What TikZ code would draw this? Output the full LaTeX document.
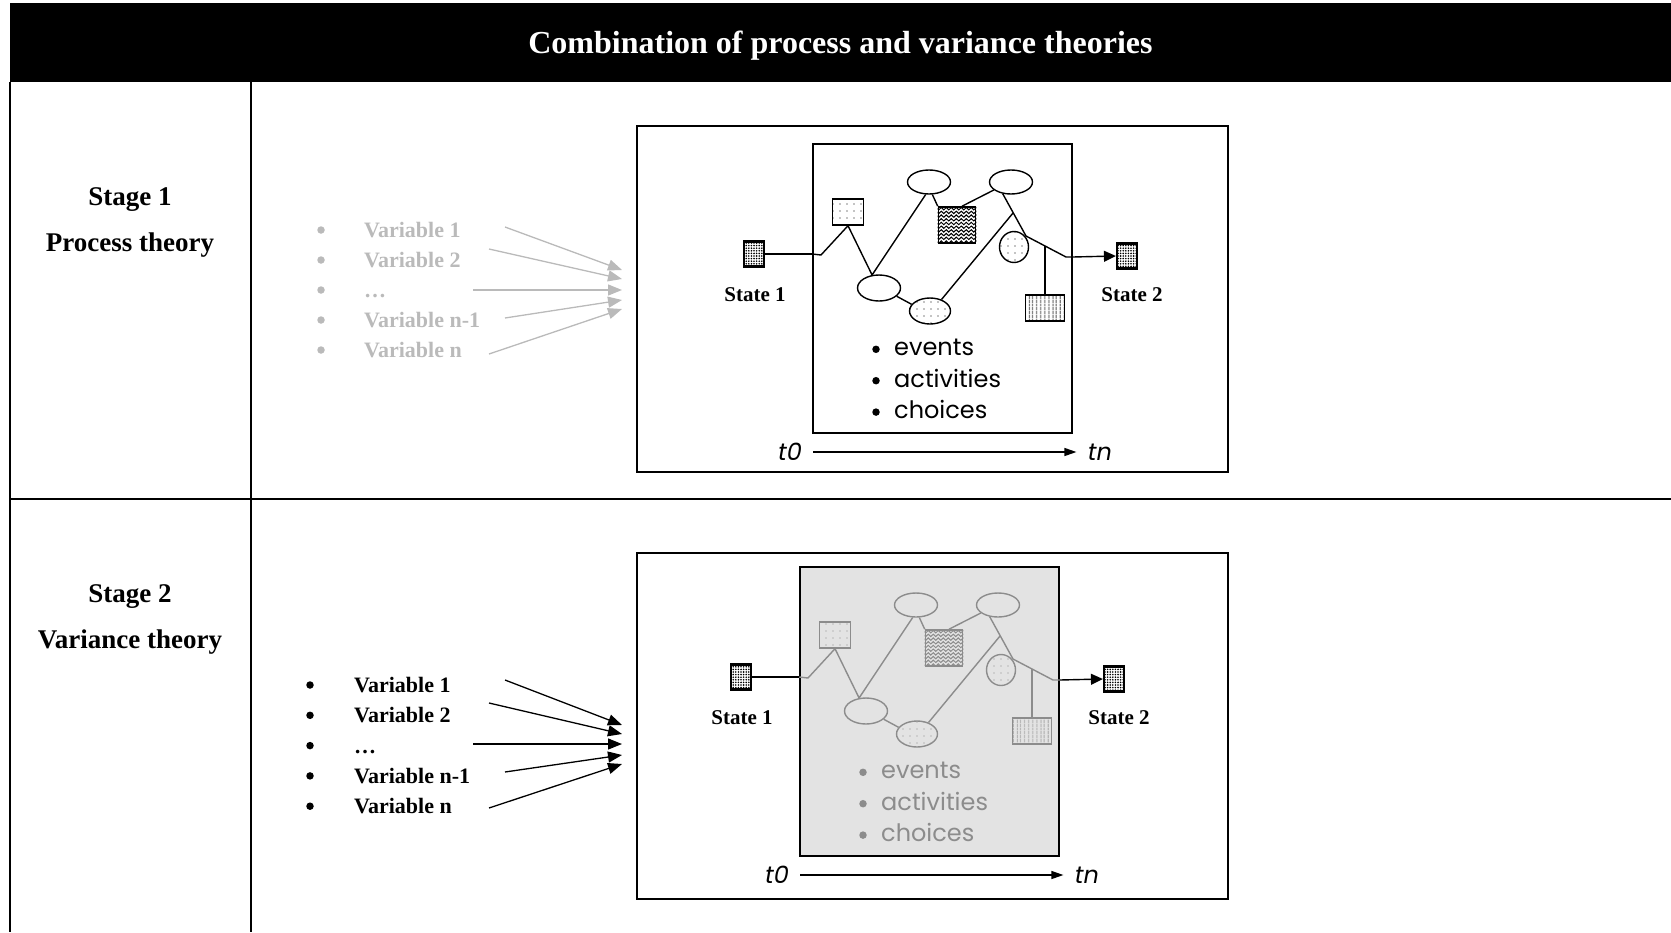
\documentclass[tikz,border=0pt]{standalone}
\usepackage{fontspec}
\setmainfont{Liberation Serif}
\newfontfamily\procfont{Poppins}
\usetikzlibrary{arrows.meta,calc,patterns.meta,decorations.pathmorphing,shapes.geometric}

\tikzset{
  rule/.style={line width=2pt},
  header/.style={fill=black, text=white, minimum width=1661pt, minimum height=79pt, inner sep=0pt,
    text depth=0pt, font=\bfseries\fontsize{32}{36}\selectfont},
  stagelbl/.style={align=center, font=\bfseries\fontsize{27}{46}\selectfont},
  frame/.style={draw, line width=2pt, minimum width=591pt, minimum height=346pt, inner sep=0pt},
  varlbl/.style={anchor=base west, inner sep=0pt, font=\bfseries\fontsize{22}{25}\selectfont},
  varbul/.style={circle, minimum size=7.5pt, inner sep=0pt},
  vararrow/.style={line width=1.3pt, -{Triangle[length=14pt,width=11pt]}},
  innerbox/.style={draw, line width=1.5pt, minimum width=259pt, minimum height=289pt, inner sep=0pt},
  statesq/.style={draw=black, line width=2.2pt, minimum width=20pt, minimum height=25pt, inner sep=0pt,
    pattern={Dots[distance=2.6pt,radius=0.9pt]}},
  statelbl/.style={font=\bfseries\fontsize{21}{25}\selectfont},
  dotsq/.style={draw, line width=1.4pt, minimum width=31pt, minimum height=26pt, inner sep=0pt,
    pattern={Dots[distance=7pt,radius=0.6pt]}},
  evell/.style={draw, ellipse, line width=1.4pt, minimum width=43pt, minimum height=26pt, inner sep=0pt},
  dotell/.style={evell, minimum width=41pt, pattern={Dots[distance=7pt,radius=0.6pt]}},
  stripesq/.style={draw, line width=1.4pt, minimum width=39pt, minimum height=26pt, inner sep=0pt,
    pattern={Lines[angle=90,distance=4pt,line width=0.9pt]}},
  wavesq/.style={draw, line width=1.6pt, minimum width=37pt, minimum height=36pt, inner sep=0pt},
  wave/.style={line width=1pt, decorate, decoration={snake, segment length=5pt, amplitude=1.2pt}},
  link/.style={line width=1.4pt},
  evbul/.style={circle, minimum size=7.5pt, inner sep=0pt},
  evtext/.style={anchor=base west, inner sep=0pt, font=\procfont\fontsize{24}{28}\selectfont},
  timelbl/.style={font=\procfont\itshape\fontsize{24}{28}\selectfont},
  timeaxis/.style={line width=1.2pt, -{Triangle[length=12pt,width=8pt]}}
}

% one process picture: #1 name prefix, #2/#3 shift, #4 inside colour, #5 inside fill
\newcommand{\procdiagram}[5]{%
  \begin{scope}[shift={(#2,#3)}]
    \node[innerbox, fill=#5] (#1in) at (942.5,288.5) {};
    % states
    \node[statesq] (#1s1) at (754,254) {};
    \node[statesq] (#1s2) at (1127,256) {};
    \node[statelbl] (#1l1) at (755,295) {State 1};
    \node[statelbl] (#1l2) at (1132,295) {State 2};
    % events
    \node[dotsq, draw=#4, pattern color=#4] (#1d) at (848,212) {};
    \node[evell, draw=#4] (#1b1) at (879,288) {};
    \node[evell, draw=#4, minimum height=24pt] (#1t1) at (929,182) {};
    \node[evell, draw=#4, minimum height=24pt] (#1t2) at (1011,182) {};
    \node[dotell, draw=#4, pattern color=#4] (#1b2) at (930,311) {};
    \node[dotell, draw=#4, pattern color=#4, minimum width=29pt, minimum height=31pt] (#1c) at (1014,247) {};
    \node[stripesq, draw=#4, pattern color=#4] (#1r) at (1045,308) {};
    \node[wavesq, draw=#4] (#1w) at (957,225) {};
    \begin{scope}
      \clip (#1w.north west) rectangle (#1w.south east);
      \foreach \k in {0,...,9}
        \draw[wave, draw=#4] ($(#1w.north west)+(-3,2.5+3.7*\k)$) -- ++(46,0);
    \end{scope}
    % connections
    \coordinate (#1j) at (821,255);
    \coordinate (#1c1) at (1026,236);
    \coordinate (#1e) at (1066,257);
    \draw[link] (#1s1.east) -- (#1s1 -| #1in.west);
    \draw[link, draw=#4] (#1s1 -| #1in.west) -- (#1j) -- (#1d.south);
    \draw[link, draw=#4] (#1d.south) -- (#1b1.118) -- (#1t1.255);
    \draw[link, draw=#4] (#1t1.285) -- (#1w.north west);
    \draw[link, draw=#4] ($(#1w.north)+(5,0)$) -- (#1t2.205);
    \draw[link, draw=#4] (#1t2.235) -- (#1c1) -- (#1e) -- (#1e -| #1in.east);
    \draw[link, -{Triangle[length=12pt,width=11pt]}] (#1e -| #1in.east) -- (#1s2.west);
    \draw[link, draw=#4] (#1b1.-25) -- (#1b2.160);
    \coordinate (#1k) at ($(#1t2.235)!0.45!(#1c1)$);
    \draw[link, draw=#4] (#1b2.45) -- (#1k);
    \coordinate (#1m) at ($(#1c1)!0.47!(#1e)$);
    \draw[link, draw=#4] (#1m) -- (#1m |- #1r.north);
    % list
    \foreach \w [count=\i] in {events,activities,choices} {
      \node[evbul, fill=#4] (#1eb\i) at (876,317.9+31.4*\i) {};
      \node[evtext, text=#4] (#1et\i) at (894,324.2+31.4*\i) {\w};
    }
    % time axis
    \node[timelbl] (#1t0) at (790,452) {t0};
    \node[timelbl] (#1tn) at (1100,452) {tn};
    \draw[timeaxis] ($(#1t0.east)+(8,0)$) -- ($(#1tn.west)+(-8,0)$);
  \end{scope}
}

\begin{document}
\begin{tikzpicture}[x=1pt, y=-1pt]
  \useasboundingbox (0,0) rectangle (1671,932);
  % table
  \node[header] (title) at (840.5,42.5) {Combination of process and variance theories};
  \draw[rule] (10,82) -- (10,932);
  \draw[rule] (251,82) -- (251,932);
  \draw[rule] (10,499) -- (1671,499);
  \node[stagelbl] (stage1) at (130,222.5) {Stage 1\\Process theory};
  \node[stagelbl] (stage2) at (130,619) {Stage 2\\Variance theory};

  % stage 1
  \foreach \txt [count=\i] in {Variable 1, Variable 2, \ldots, Variable n-1, Variable n} {
    \node[varbul, fill=black!27] (pb\i) at (321,200+30*\i) {};
    \node[varlbl, text=black!27] (pv\i) at (364,207.5+30*\i) {\txt};
  }
  \foreach \sx/\sy/\ty [count=\i] in {505/227/270, 489/249/279, 473/290/290, 505/318/300, 489/354/309} {
    \coordinate (pa\i) at (\sx,\sy);
    \coordinate (pz\i) at (622,\ty);
    \draw[vararrow, draw=black!27, fill=black!27] (pa\i) -- (pz\i);
  }
  \node[frame] (frame1) at (932.5,299) {};
  \procdiagram{p}{0}{0}{black}{white}

  % stage 2
  \foreach \txt [count=\i] in {Variable 1, Variable 2, \ldots, Variable n-1, Variable n} {
    \node[varbul, fill=black] (vb\i) at (310,654.7+30.3*\i) {};
    \node[varlbl] (vv\i) at (354,662.2+30.3*\i) {\txt};
  }
  \foreach \sx/\sy/\ty [count=\i] in {505/680/725, 489/703/734, 473/744/744, 505/772/755, 489/808/764} {
    \coordinate (va\i) at (\sx,\sy);
    \coordinate (vz\i) at (622,\ty);
    \draw[vararrow] (va\i) -- (vz\i);
  }
  \node[frame] (frame2) at (932.5,726) {};
  \procdiagram{v}{-13}{423}{black!45}{black!11}
\end{tikzpicture}
\end{document}
